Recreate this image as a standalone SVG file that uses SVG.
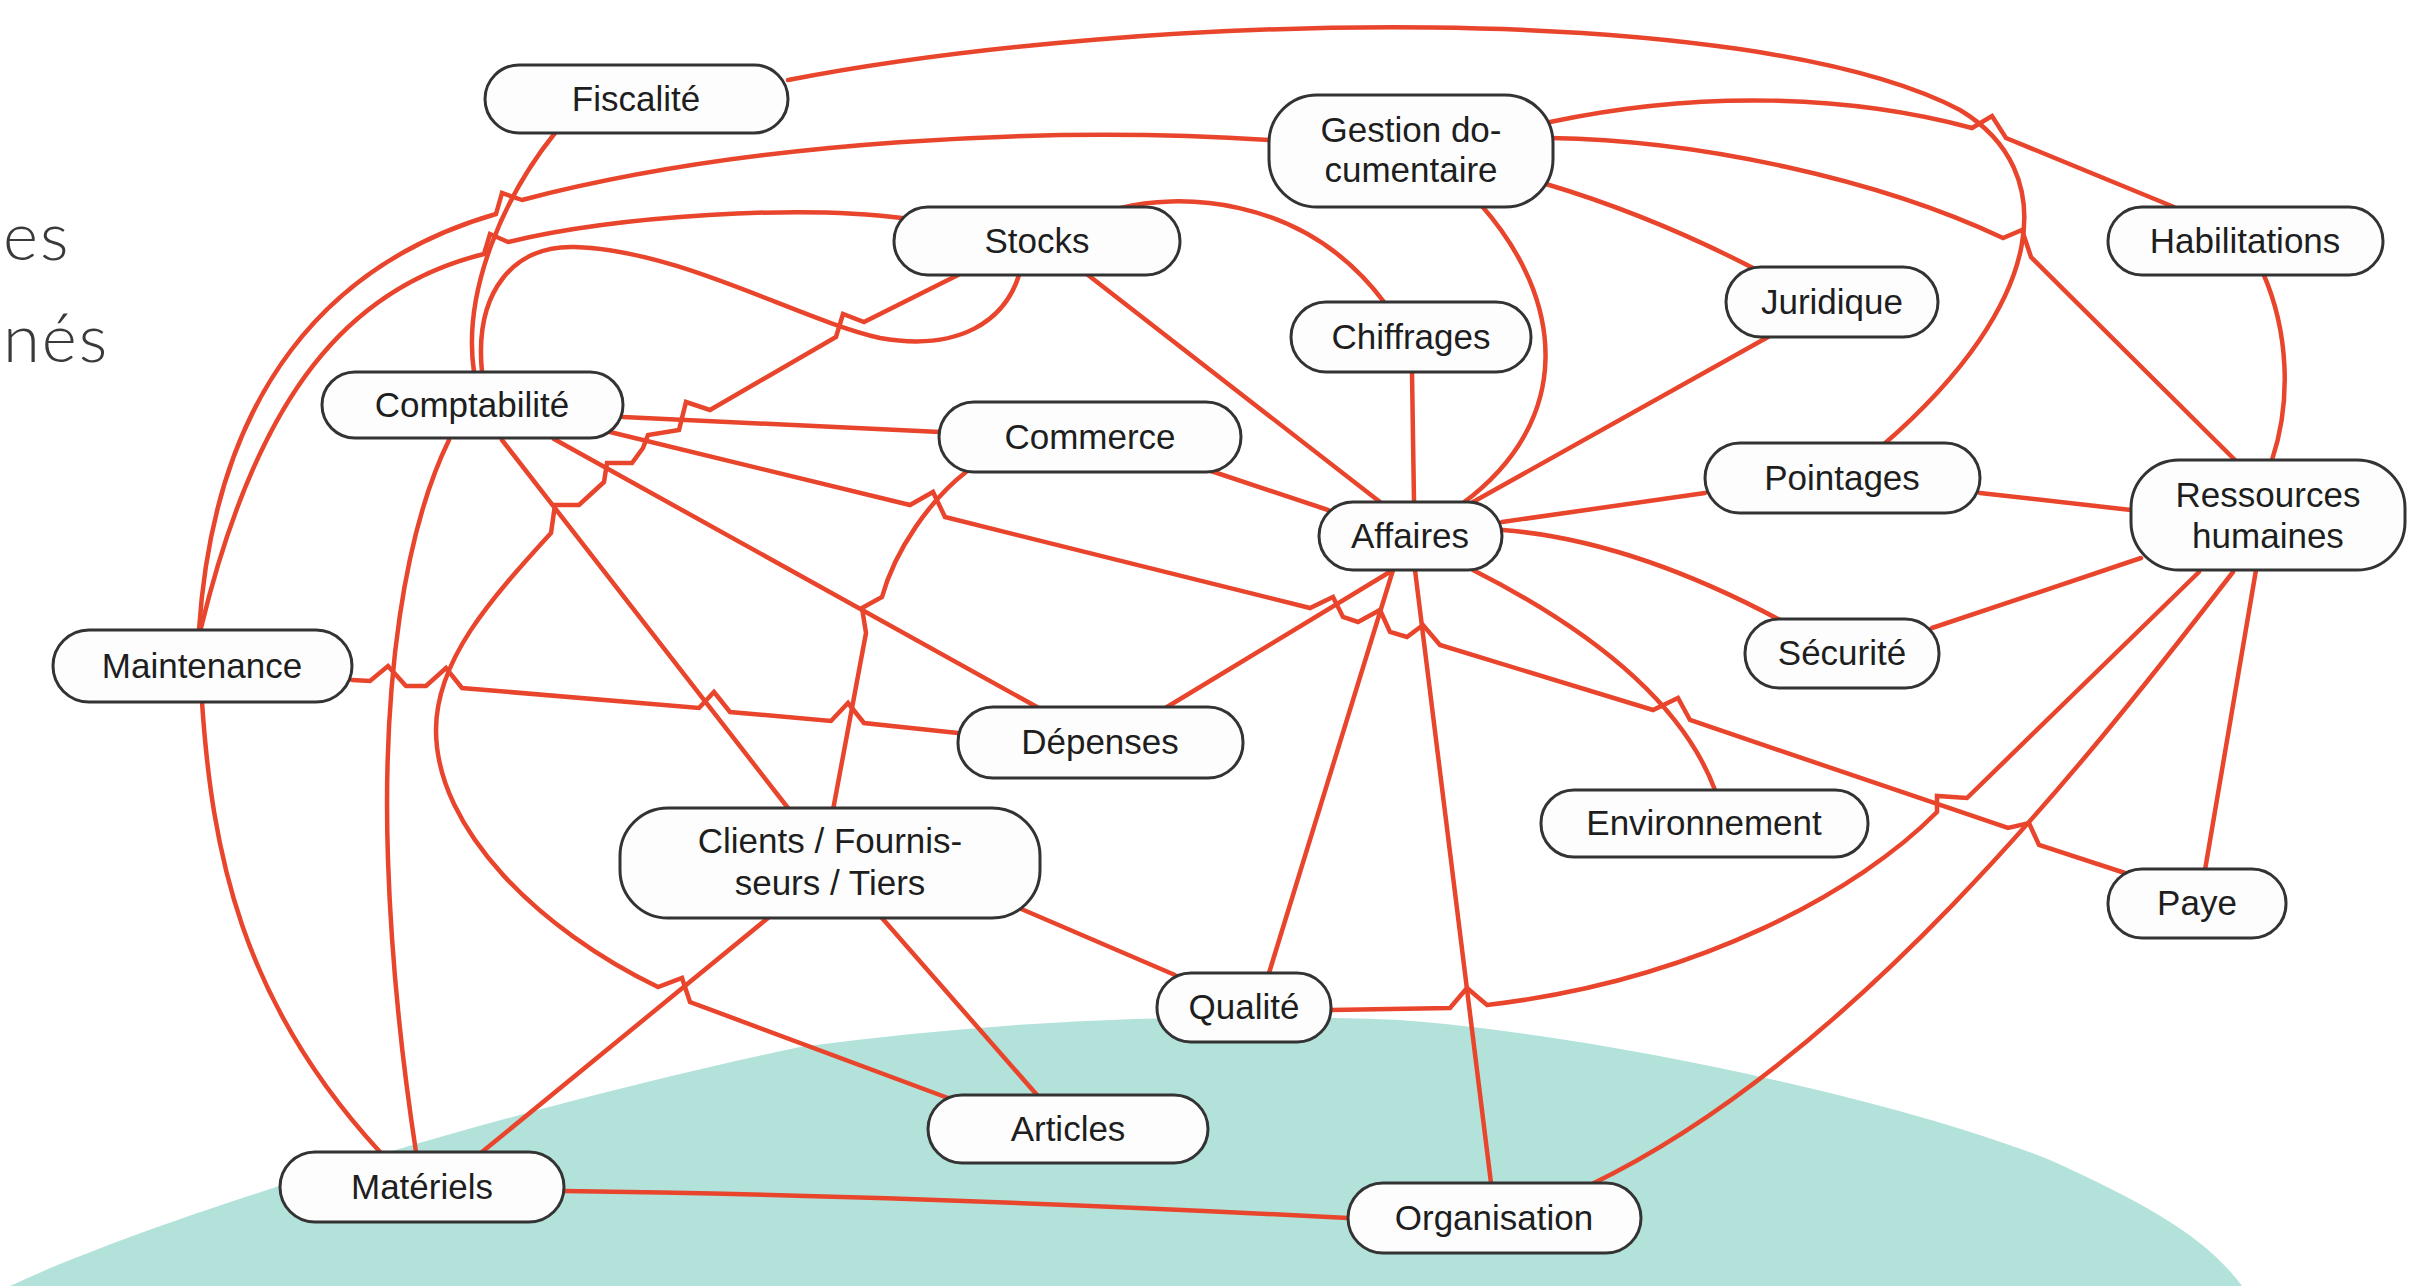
<svg xmlns="http://www.w3.org/2000/svg" width="2417" height="1286" viewBox="0 0 2417 1286">
<style>
.bg{fill:#b3e2da}
.side{font-family:Lato,"Open Sans","Liberation Sans",sans-serif;font-weight:300;font-size:67px;fill:#3a3a3a;letter-spacing:2px}
.edges path{fill:none;stroke:#e8452c;stroke-width:4.5;stroke-linejoin:miter;stroke-linecap:round}
.node rect{fill:#fdfdfd;stroke:#333;stroke-width:3}
.node text{font-family:"Liberation Sans",Arial,sans-serif;font-size:35px;fill:#1e1e1e;text-anchor:middle}
</style>
<rect width="2417" height="1286" fill="#ffffff"/>
<path class="bg" d="M0 1290 L10 1286 C150 1220 500 1110 800 1047 C1000 1020 1200 1012 1400 1020 C1600 1035 1900 1100 2050 1160 C2150 1205 2210 1240 2245 1290 Z"/>
<text class="side" x="3" y="260">es</text>
<text class="side" x="3" y="362">nés</text>
<g id="connectors" class="edges">
<path d="M788 80 C1150 10 1750 0 1960 110 C2060 170 2050 300 1883 445"/>
<path d="M555 133 C505 195 462 290 474 372"/>
<path d="M1269 140 C1050 126 750 140 522 200 L502 193 L496 214 C330 262 215 390 199 630"/>
<path d="M902 218 C800 205 620 215 508 242 L490 234 L484 254 C350 287 258 392 201 628"/>
<path d="M482 372 C474 290 515 245 575 247 C680 250 800 320 880 338 C960 352 1005 320 1019 275"/>
<path d="M958 275 L864 322 L843 314 L836 337 L710 410 L686 402 L679 430 L648 435 L643 448 L632 463 L607 463 L604 482 L579 505 L555 505 L551 533 C490 600 436 660 436 730 C436 830 540 930 658 987 L682 978 L690 1002 Q820 1050 948 1098"/>
<path d="M623 417 L940 432"/>
<path d="M610 432 L910 505 L933 492 L945 517 L1310 608 L1333 597 L1343 617 L1358 622 L1380 610 L1390 632 L1407 637 L1423 625 L1440 645 L1653 710 L1678 698 L1690 720 L2008 828 L2029 823 L2039 845 L2125 873"/>
<path d="M554 439 L1037 707"/>
<path d="M502 440 L788 808"/>
<path d="M449 440 C405 530 382 680 388 860 C392 980 405 1080 416 1152"/>
<path d="M352 680 L370 681 L388 666 L406 686 L426 686 L446 668 L462 688 L699 708 L714 692 L730 712 L831 721 L848 703 L864 723 L958 733"/>
<path d="M202 702 C212 850 240 1000 380 1152"/>
<path d="M768 918 L482 1152"/>
<path d="M882 918 L1037 1095"/>
<path d="M1019 908 L1175 975"/>
<path d="M966 472 C930 500 895 550 882 597 L862 608 L866 633 L833 810"/>
<path d="M1208 470 L1328 510"/>
<path d="M1088 275 L1380 502"/>
<path d="M1412 372 L1414 502"/>
<path d="M1481 205 C1565 300 1575 420 1463 503"/>
<path d="M1768 337 L1473 502"/>
<path d="M1502 522 L1705 493"/>
<path d="M1503 530 Q1630 540 1780 620"/>
<path d="M1473 570 Q1670 670 1715 790"/>
<path d="M1393 570 L1167 707"/>
<path d="M1393 570 L1269 973"/>
<path d="M1415 570 L1491 1183"/>
<path d="M1550 122 C1700 90 1850 95 1972 128 L1992 116 L2006 138 L2174 207"/>
<path d="M1550 138 C1700 140 1880 180 2003 238 L2022 230 L2031 257 L2235 460"/>
<path d="M1546 184 Q1650 215 1753 268"/>
<path d="M2263 273 C2288 330 2292 400 2272 460"/>
<path d="M1980 493 L2131 510"/>
<path d="M1932 628 L2141 558"/>
<path d="M2256 570 L2205 870"/>
<path d="M2199 572 L1967 798 L1937 796 L1937 812 C1860 890 1700 980 1487 1005 L1467 988 L1450 1008 L1331 1010"/>
<path d="M2233 572 C2080 770 1850 1060 1590 1185"/>
<path d="M564 1191 Q900 1195 1348 1218"/>
<path d="M1121 208 C1170 195 1300 190 1384 302"/>
</g>
<g id="n-fiscalite" class="node"><rect x="485" y="65" width="303" height="68" rx="34"/><text x="636" y="111">Fiscalité</text></g>
<g id="n-gestion" class="node"><rect x="1269" y="95" width="284" height="112" rx="48"/><text x="1411" y="142">Gestion do-</text><text x="1411" y="182">cumentaire</text></g>
<g id="n-stocks" class="node"><rect x="894" y="207" width="286" height="68" rx="34"/><text x="1037" y="253">Stocks</text></g>
<g id="n-chiffrages" class="node"><rect x="1291" y="302" width="240" height="70" rx="35"/><text x="1411" y="349">Chiffrages</text></g>
<g id="n-commerce" class="node"><rect x="939" y="402" width="302" height="70" rx="35"/><text x="1090" y="449">Commerce</text></g>
<g id="n-comptabilite" class="node"><rect x="322" y="372" width="301" height="66" rx="33"/><text x="472" y="417">Comptabilité</text></g>
<g id="n-juridique" class="node"><rect x="1726" y="267" width="212" height="70" rx="35"/><text x="1832" y="314">Juridique</text></g>
<g id="n-habilitations" class="node"><rect x="2108" y="207" width="275" height="68" rx="34"/><text x="2245" y="253">Habilitations</text></g>
<g id="n-pointages" class="node"><rect x="1705" y="443" width="275" height="70" rx="35"/><text x="1842" y="490">Pointages</text></g>
<g id="n-rh" class="node"><rect x="2131" y="460" width="274" height="110" rx="48"/><text x="2268" y="507">Ressources</text><text x="2268" y="548">humaines</text></g>
<g id="n-affaires" class="node"><rect x="1319" y="502" width="183" height="68" rx="34"/><text x="1410" y="548">Affaires</text></g>
<g id="n-securite" class="node"><rect x="1745" y="619" width="194" height="69" rx="34"/><text x="1842" y="665">Sécurité</text></g>
<g id="n-maintenance" class="node"><rect x="53" y="630" width="299" height="72" rx="36"/><text x="202" y="678">Maintenance</text></g>
<g id="n-depenses" class="node"><rect x="958" y="707" width="285" height="71" rx="35"/><text x="1100" y="754">Dépenses</text></g>
<g id="n-environnement" class="node"><rect x="1541" y="790" width="327" height="67" rx="33"/><text x="1704" y="835">Environnement</text></g>
<g id="n-clients" class="node"><rect x="620" y="808" width="420" height="110" rx="48"/><text x="830" y="853">Clients / Fournis-</text><text x="830" y="895">seurs / Tiers</text></g>
<g id="n-paye" class="node"><rect x="2108" y="869" width="178" height="69" rx="34"/><text x="2197" y="915">Paye</text></g>
<g id="n-qualite" class="node"><rect x="1157" y="973" width="174" height="69" rx="34"/><text x="1244" y="1019">Qualité</text></g>
<g id="n-articles" class="node"><rect x="928" y="1095" width="280" height="68" rx="34"/><text x="1068" y="1141">Articles</text></g>
<g id="n-materiels" class="node"><rect x="280" y="1152" width="284" height="70" rx="35"/><text x="422" y="1199">Matériels</text></g>
<g id="n-organisation" class="node"><rect x="1348" y="1183" width="293" height="70" rx="35"/><text x="1494" y="1230">Organisation</text></g>
</svg>
